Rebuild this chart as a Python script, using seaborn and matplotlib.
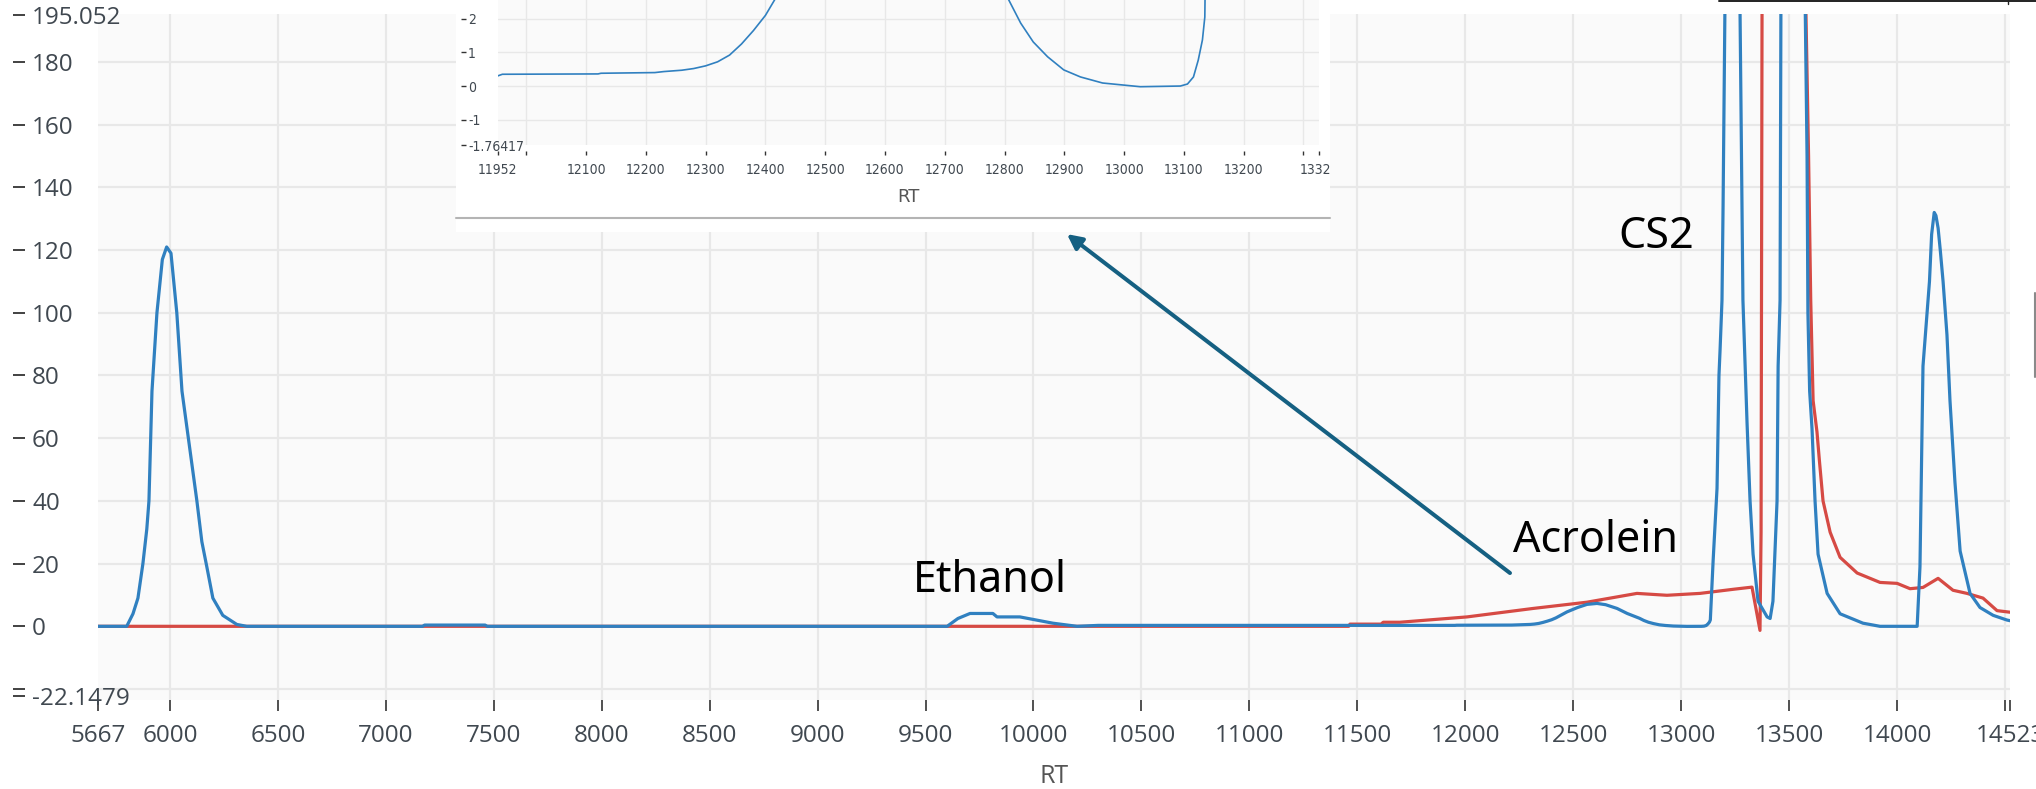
import numpy as np
import pandas as pd
import seaborn as sns
import matplotlib.pyplot as plt
from matplotlib.lines import Line2D
from matplotlib.patches import Rectangle
from matplotlib.transforms import Bbox, TransformedBbox

# chromatogram traces (RT vs signal)
rt_blue = [5667, 5800, 5829, 5852, 5875, 5893, 5903, 5917, 5940, 5965, 5985, 6005, 6032, 6056,
           6125, 6148, 6171, 6199, 6245, 6310, 6356, 7170, 7180, 7460, 7470, 9600, 9650, 9706,
           9812, 9831, 9937, 9998, 10090, 10202, 10300, 11952, 11960, 12120, 12125, 12215, 12230,
           12260, 12280, 12300, 12320, 12340, 12360, 12380, 12400, 12420, 12471, 12520, 12564,
           12610, 12650, 12703, 12750, 12790, 12807, 12827, 12848, 12872, 12899, 12927, 12964,
           12999, 13027, 13094, 13106, 13116, 13124, 13131, 13135, 13148, 13166, 13175, 13180,
           13189, 13194, 13200, 13203, 13240, 13272, 13280, 13286, 13305, 13319, 13333, 13356,
           13398, 13412, 13425, 13444, 13449, 13458, 13462, 13520, 13574, 13583, 13587, 13595,
           13606, 13620, 13634, 13676, 13736, 13842, 13921, 14093, 14106, 14120, 14143, 14150,
           14160, 14172, 14180, 14190, 14200, 14213, 14231, 14245, 14268, 14292, 14338, 14384,
           14445, 14509, 14523]
sig_blue = [0, 0, 4, 9, 20, 31, 40, 75, 100, 117, 121, 119, 100, 75,
            40, 27, 19, 9, 3.5, 0.6, 0, 0, 0.4, 0.4, 0, 0, 2.5, 4.1,
            4.1, 3.0, 3.0, 2.2, 1.0, 0, 0.3, 0.3, 0.35, 0.36, 0.38, 0.4, 0.43,
            0.47, 0.52, 0.6, 0.72, 0.92, 1.25, 1.65, 2.1, 2.7, 4.6, 6.0, 7.0,
            7.3, 6.9, 5.7, 4.1, 3.0, 2.56, 1.87, 1.31, 0.87, 0.48, 0.27, 0.09,
            0.03, -0.02, 0.0, 0.06, 0.27, 0.77, 1.37, 2.05, 21, 44, 80, 88,
            104, 134, 180, 200, 400, 200, 145, 104, 65, 40, 23, 8,
            3, 2.5, 8, 40, 83, 104, 200, 400, 200, 150, 100, 75,
            63, 40, 23, 10.5, 4, 1, 0, 0, 19, 83, 104, 110,
            125, 132, 131, 127, 120, 110, 93, 72, 46, 24, 10.5, 6,
            3.5, 2, 1.8]

rt_red = [5667, 11460, 11466, 11610, 11620, 11697, 12008, 12314, 12564, 12795, 12934, 13087,
          13240, 13328, 13365, 13370, 13380, 13570, 13578, 13590, 13600, 13611, 13629, 13640,
          13657, 13690, 13736, 13815, 13921, 14000, 14060, 14120, 14190, 14259, 14324, 14398,
          14463, 14523]
sig_red = [0, 0, 0.7, 0.7, 1.3, 1.3, 3.0, 5.7, 7.7, 10.5, 9.9, 10.5,
           11.8, 12.5, -1.3, 30, 400, 400, 195, 150, 104, 72, 62, 53,
           40, 30, 22, 17, 14, 13.7, 12, 12.4, 15.3, 11.5, 10.5, 9,
           5, 4.5]

x_ticks = [5667, 6000, 6500, 7000, 7500, 8000, 8500, 9000, 9500, 10000, 10500, 11000,
           11500, 12000, 12500, 13000, 13500, 14000, 14500, 14523]
x_labels = [str(t) for t in x_ticks]
x_labels[-2] = ''
y_ticks = [-22.1479, -20, 0, 20, 40, 60, 80, 100, 120, 140, 160, 180, 195.052]
y_labels = [str(t) for t in y_ticks]
y_labels[1] = ''

inset_x_ticks = [11952] + list(range(12000, 13301, 100)) + [13326]
inset_x_labels = [str(t) for t in inset_x_ticks]
inset_x_labels[1] = ''
inset_x_labels[-2] = ''
inset_y_ticks = [-1.76417, -1, 0, 1, 2]
inset_y_labels = ['-1.76417', '-1', '0', '1', '2']

peak_names = ['Ethanol', 'Acrolein', 'CS2']
peak_label_rt = [9442, 12221, 12707]
peak_label_y = [10.8, 23.6, 120.6]

BLUE = '#3080c0'
RED = '#d64a44'
GRID = '#e8e8e8'
LABEL = '#404850'

W, H = 2036, 789


def fx(p):
    return p / W


def fy(p):
    return 1 - p / H


sns.set_style('white')
plt.rcParams['font.family'] = ['Open Sans', 'DejaVu Sans']

fig = plt.figure(figsize=(W / 100, H / 100), dpi=100)

# ---- main chromatogram
ax = fig.add_axes([fx(98), fy(700), (2010 - 98) / W, (700 - 14) / H])
ax.set_facecolor('#fafafa')
for s in ax.spines.values():
    s.set_visible(False)
for v in range(6000, 14501, 500):
    ax.axvline(v, color=GRID, lw=1.6, zorder=0)
for v in range(-20, 181, 20):
    ax.axhline(v, color=GRID, lw=1.6, zorder=0)

df_red = pd.DataFrame({'RT': rt_red, 'signal': sig_red})
df_blue = pd.DataFrame({'RT': rt_blue, 'signal': sig_blue})
sns.lineplot(data=df_red, x='RT', y='signal', ax=ax, color=RED, lw=2.3, errorbar=None)
sns.lineplot(data=df_blue, x='RT', y='signal', ax=ax, color=BLUE, lw=2.3, errorbar=None)

ax.set_xlim(5667, 14523)
ax.set_ylim(-23.5, 195.3)
ax.set_xticks(x_ticks, x_labels)
ax.set_yticks(y_ticks, y_labels)
ax.tick_params(axis='x', bottom=True, length=8, width=1.2, color='#333333', pad=9,
               labelsize=17.5, labelcolor=LABEL)
ax.tick_params(axis='y', left=True, length=0, pad=47.5, labelsize=17.5, labelcolor=LABEL)
for lab in ax.get_yticklabels():
    lab.set_horizontalalignment('left')
ax.set_ylabel('')
ax.set_xlabel('RT', fontsize=18, color='#555555', labelpad=12)

# dash tick marks sitting left of the y labels
sec = ax.secondary_yaxis(-0.0382)
sec.set_yticks(y_ticks)
sec.tick_params(axis='y', left=True, length=8.6, width=1.3, color='#333333', labelleft=False)
sec.spines['left'].set_visible(False)

for name, rx, ry in zip(peak_names, peak_label_rt, peak_label_y):
    ax.text(rx, ry, name, fontsize=31, family=['Noto Sans', 'DejaVu Sans'], color='black',
            ha='left', va='baseline')

ax.annotate('', xy=(10155, 125.1), xytext=(12207, 17),
            arrowprops=dict(arrowstyle='-|>', color='#156082', lw=2.9, mutation_scale=22,
                            shrinkA=0, shrinkB=0))

# ---- zoomed inset (pasted screenshot)
panel = Rectangle((fx(456), fy(232)), (1330 - 456) / W, 232 / H, transform=fig.transFigure,
                  facecolor='white', edgecolor='none', zorder=1)
fig.add_artist(panel)
fig.add_artist(Line2D([fx(456), fx(1330)], [fy(217.5)] * 2, transform=fig.transFigure,
                      color='#b4b4b4', lw=1.5, zorder=1.5))
panel_clip = TransformedBbox(Bbox.from_bounds(fx(456), fy(232), (1330 - 456) / W, 232 / H),
                             fig.transFigure)

narrow = ['Liberation Sans Narrow', 'DejaVu Sans']
axin = fig.add_axes([fx(497.6), fy(145.4), 821.4 / W, 227.6 / H], zorder=2)
axin.set_facecolor('#fafafa')
for s in axin.spines.values():
    s.set_visible(False)
for v in range(12000, 13301, 100):
    axin.axvline(v, color=GRID, lw=1.0, zorder=0)
for v in range(-1, 5):
    axin.axhline(v, color=GRID, lw=1.0, zorder=0)
sns.lineplot(data=df_blue, x='RT', y='signal', ax=axin, color=BLUE, lw=1.2, errorbar=None)
axin.set_xlim(11952, 13326)
axin.set_ylim(-1.76417, 5)
axin.set_xticks(inset_x_ticks, inset_x_labels)
axin.set_yticks(inset_y_ticks, inset_y_labels)
axin.tick_params(axis='x', length=0, pad=12.5, labelsize=10, labelcolor=LABEL,
                 labelfontfamily=narrow)
axin.tick_params(axis='y', length=0, pad=21.3, labelsize=10, labelcolor=LABEL,
                 labelfontfamily=narrow)
for lab in axin.get_yticklabels():
    lab.set_horizontalalignment('left')
for lab in axin.get_xticklabels() + axin.get_yticklabels():
    lab.set_fontstretch('condensed')
# the last inset label runs past the pasted screenshot edge
last = axin.xaxis.get_major_ticks()[-1].label1
last.set_clip_box(panel_clip)
last.set_clip_on(True)
axin.set_ylabel('')
axin.set_xlabel('RT', fontsize=13, color='#555555', family=narrow, labelpad=8)

secx = axin.secondary_xaxis(-0.0264)
secx.set_xticks(inset_x_ticks)
secx.tick_params(axis='x', bottom=True, length=3, width=1.0, color='#333333', labelbottom=False)
secx.spines['bottom'].set_visible(False)
secy = axin.secondary_yaxis(-0.0385)
secy.set_yticks(inset_y_ticks)
secy.tick_params(axis='y', left=True, length=3.6, width=1.0, color='#333333', labelleft=False)
secy.spines['left'].set_visible(False)

# edges of neighbouring screenshot pieces
fig.add_artist(Line2D([fx(1719), 1], [fy(1.2)] * 2, transform=fig.transFigure,
                      color='#222222', lw=1.4))
fig.add_artist(Line2D([fx(2008)] * 2, [1, fy(4)], transform=fig.transFigure,
                      color='#222222', lw=1.0))
fig.add_artist(Line2D([fx(2034.5)] * 2, [fy(293), fy(377)], transform=fig.transFigure,
                      color='#8a8a8a', lw=1.5))

fig.savefig('out.png', dpi=100)
